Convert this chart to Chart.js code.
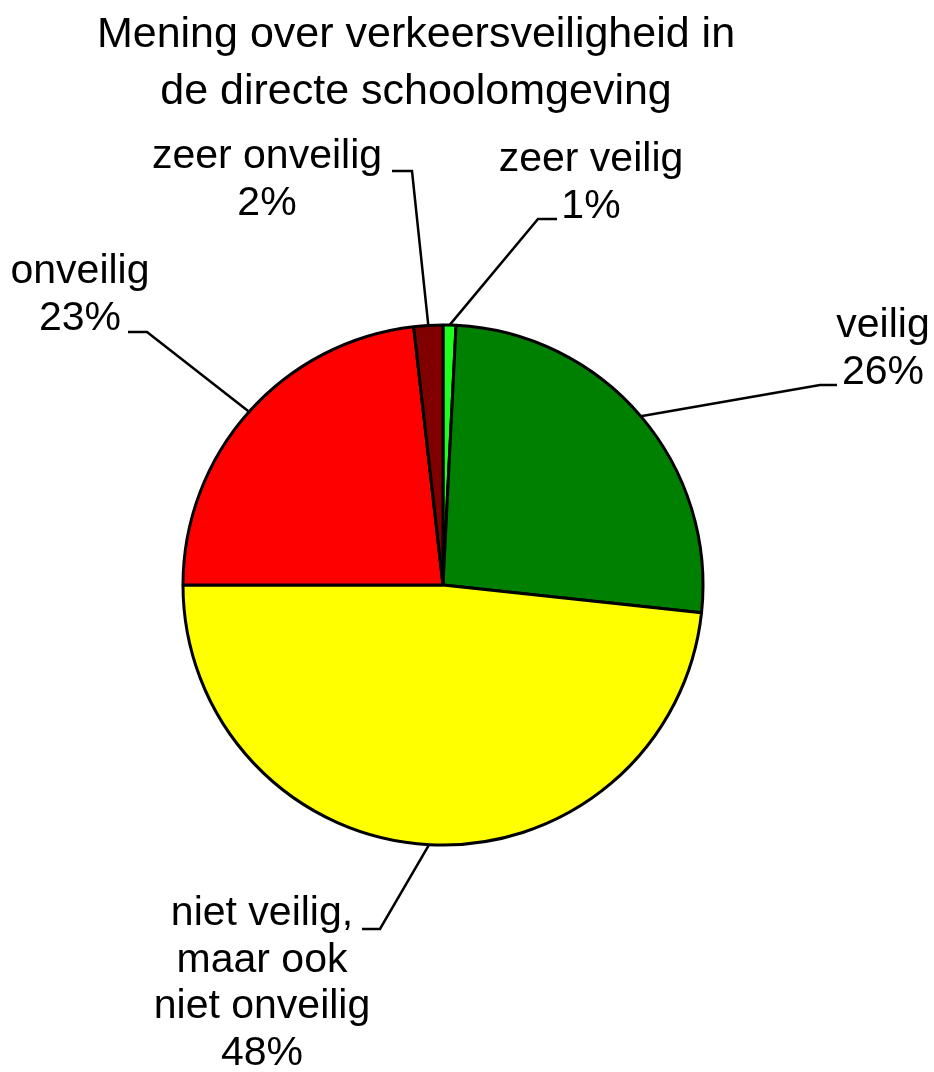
<!DOCTYPE html>
<html lang="nl">
<head>
  <meta charset="UTF-8" />
  <title>Mening over verkeersveiligheid</title>
  <style>
    body {
      margin: 0;
      padding: 0;
      background: #ffffff;
    }
    #wrap {
      width: 934px;
      height: 1072px;
    }
  </style>
  <script src="https://cdn.jsdelivr.net/npm/chart.js"></script>
</head>
<body>
  <div id="wrap">
    <canvas id="veiligChart" width="934" height="1072"></canvas>
  </div>

  <script>
    // data, clockwise from the top
    const categories = [
      ["zeer veilig"],
      ["veilig"],
      ["niet veilig,", "maar ook", "niet onveilig"],
      ["onveilig"],
      ["zeer onveilig"]
    ];
    const shares = [0.8, 25.9, 48.3, 23.2, 1.8];
    const sliceColors = ["#1eff1e", "#008000", "#ffff00", "#ff0000", "#800000"];
    const titleLines = ["Mening over verkeersveiligheid in", "de directe schoolomgeving"];

    // where each label sits, relative to the pie centre
    // elbow = knick in the leader line, tail = end of the short horizontal piece,
    // tx = text centre, ty = baseline of first line
    const labelLayout = [
      { ex: 95,   ey: -366, tail: 114,  tx: 148,  ty: -414 },
      { ex: 377,  ey: -200, tail: 394,  tx: 440,  ty: -248 },
      { ex: -63,  ey: 344,  tail: -81,  tx: -181, ty: 340 },
      { ex: -296, ey: -253, tail: -315, tx: -363, ty: -302 },
      { ex: -31,  ey: -414, tail: -51,  tx: -176, ty: -417 }
    ];

    const FONT = '"Liberation Sans", Arial, sans-serif';

    const calloutPlugin = {
      id: "callouts",
      afterDatasetsDraw(chart) {
        const ctx = chart.ctx;
        const meta = chart.getDatasetMeta(0);
        ctx.save();

        // title
        ctx.fillStyle = "#000";
        ctx.textAlign = "center";
        ctx.textBaseline = "alphabetic";
        ctx.font = "43px " + FONT;
        ctx.fillText(titleLines[0], 416, 47);
        ctx.fillText(titleLines[1], 416, 104);

        ctx.font = "41px " + FONT;
        meta.data.forEach((arc, i) => {
          const lay = labelLayout[i];
          const mid = (arc.startAngle + arc.endAngle) / 2;
          const px = arc.x + arc.outerRadius * Math.cos(mid);
          const py = arc.y + arc.outerRadius * Math.sin(mid);

          ctx.strokeStyle = "#000";
          ctx.lineWidth = 2.5;
          ctx.beginPath();
          ctx.moveTo(px, py);
          ctx.lineTo(arc.x + lay.ex, arc.y + lay.ey);
          ctx.lineTo(arc.x + lay.tail, arc.y + lay.ey);
          ctx.stroke();

          const lines = categories[i].concat([Math.round(shares[i]) + "%"]);
          lines.forEach((txt, k) => {
            ctx.fillText(txt, arc.x + lay.tx, arc.y + lay.ty + k * 46.5);
          });
        });
        ctx.restore();
      }
    };

    new Chart(document.getElementById("veiligChart"), {
      type: "pie",
      data: {
        labels: categories.map(c => c.join(" ")),
        datasets: [{
          data: shares,
          backgroundColor: sliceColors,
          borderColor: "#000",
          borderWidth: 3
        }]
      },
      options: {
        responsive: false,
        animation: false,
        rotation: 0,
        radius: 260,
        layout: {
          padding: { left: 150, right: 198, top: 300, bottom: 202 }
        },
        plugins: {
          legend: { display: false },
          tooltip: { enabled: false },
          title: { display: false }
        }
      },
      plugins: [calloutPlugin]
    });
  </script>
</body>
</html>
